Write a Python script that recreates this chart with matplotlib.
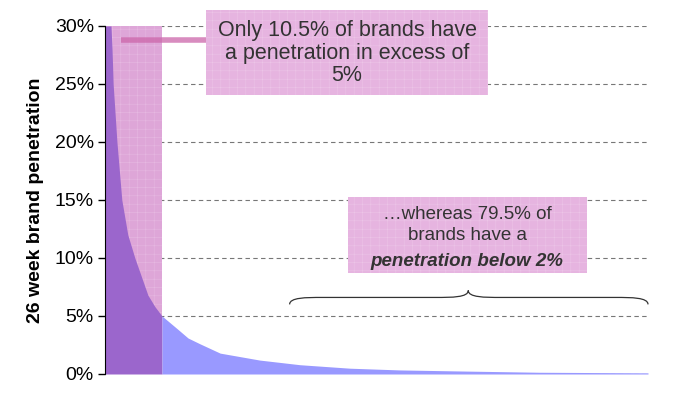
import numpy as np
import matplotlib
matplotlib.use('Agg')
import matplotlib.pyplot as plt
from matplotlib.patches import Rectangle
from matplotlib.path import Path
from matplotlib.patches import PathPatch

plt.rcParams['font.family'] = ['Liberation Sans', 'DejaVu Sans']
plt.rcParams['hatch.linewidth'] = 0.4

# share of brands (%), ranked by penetration
brand_share = [0, 1.1, 1.3, 1.5, 2.2, 3.1, 4.2, 5.5, 7.9, 9.2, 10.5, 13.3, 15.3,
               17.5, 21.2, 28.5, 35.9, 45.1, 54.3, 66.7, 80.0, 100.0]
# 26 week brand penetration (%)
penetration = [30.0, 30.0, 28.0, 25.0, 20.0, 15.0, 12.0, 10.0, 6.8, 5.8, 5.0, 3.9, 3.1,
               2.6, 1.8, 1.2, 0.8, 0.5, 0.35, 0.25, 0.15, 0.1]

yticks = [0, 5, 10, 15, 20, 25, 30]
top_share = 10.5
note_top = 'Only 10.5% of brands have\na penetration in excess of\n5%'
note_low_1 = '\u2026whereas 79.5% of\nbrands have a'
note_low_2 = 'penetration below 2%'

fig = plt.figure(figsize=(6.75, 3.93), dpi=100)
ax = fig.add_axes([105 / 675, 1 - 374 / 393, 543 / 675, 348 / 393])

x = np.array(brand_share)
y = np.array(penetration)

# highlight of the top 10.5% of brands
ax.add_patch(Rectangle((0, 0), top_share, 30, facecolor='#dea6d8', hatch='++',
                       edgecolor='#e6b8e1', lw=0, zorder=2))
ax.fill_between(x, 0, y, where=x <= top_share, color='#9b66cc', lw=0, zorder=3)
ax.fill_between(x, 0, y, where=x >= top_share, color='#9999ff', lw=0, zorder=3)

ax.set_xlim(0, 100)
ax.set_ylim(0, 30)
ax.set_yticks(yticks)
ax.set_yticklabels([f'{t}%' for t in yticks], fontsize=14)
ax.set_xticks([])
ax.yaxis.grid(True, ls=(0, (4, 3)), color='#777777', lw=0.8)
ax.set_axisbelow(True)
for s in ['top', 'right', 'bottom']:
    ax.spines[s].set_visible(False)
ax.spines['left'].set_color('black')
ax.spines['left'].set_zorder(5)
ax.tick_params(axis='y', length=5, width=1, pad=3)
ax.set_ylabel('26 week brand penetration', fontsize=14, fontweight='bold', labelpad=8)

# connector from highlight to the note
ax.plot([2.9, 18.9], [28.8, 28.8], color='#cc66aa', lw=4, alpha=0.75,
        solid_capstyle='butt', zorder=4)

# note boxes (figure pixel coordinates)
def px_box(x0, y0, x1, y1):
    return Rectangle((x0 / 675, 1 - y1 / 393), (x1 - x0) / 675, (y1 - y0) / 393,
                     transform=fig.transFigure, facecolor='#e6b4e0', hatch='++',
                     edgecolor='#ecc4e7', lw=0, zorder=5)

fig.patches.append(px_box(206, 10, 488, 95))
fig.text(347 / 675, 1 - 53 / 393, note_top, ha='center', va='center', fontsize=15.5,
         color='#333333', linespacing=1.08, zorder=6)

fig.patches.append(px_box(348, 197, 587, 273))
fig.text(467 / 675, 1 - 225 / 393, note_low_1, ha='center', va='center', fontsize=13.5,
         color='#333333', linespacing=1.25, zorder=6)
fig.text(467 / 675, 1 - 261 / 393, note_low_2, ha='center', va='center', fontsize=13.5,
         color='#333333', fontweight='bold', fontstyle='italic', zorder=6)

# curly brace over the long tail
bx0, bx1, bmid = 34.0, 100.0, 66.9
by, bh = 6.6, 0.6
verts = [(bx0, by - bh), (bx0, by), (bx0 + 3, by), (bx0 + 6, by),
         (bmid - 6, by), (bmid - 3, by), (bmid, by), (bmid, by + bh),
         (bmid, by), (bmid + 3, by), (bmid + 6, by),
         (bx1 - 6, by), (bx1 - 3, by), (bx1, by), (bx1, by - bh)]
codes = [Path.MOVETO, Path.CURVE4, Path.CURVE4, Path.CURVE4,
         Path.LINETO, Path.CURVE4, Path.CURVE4, Path.CURVE4,
         Path.CURVE4, Path.CURVE4, Path.CURVE4,
         Path.LINETO, Path.CURVE4, Path.CURVE4, Path.CURVE4]
ax.add_patch(PathPatch(Path(verts, codes), fill=False, color='#333333', lw=0.9,
                       zorder=4, clip_on=False))

fig.savefig('out.png', dpi=100)
